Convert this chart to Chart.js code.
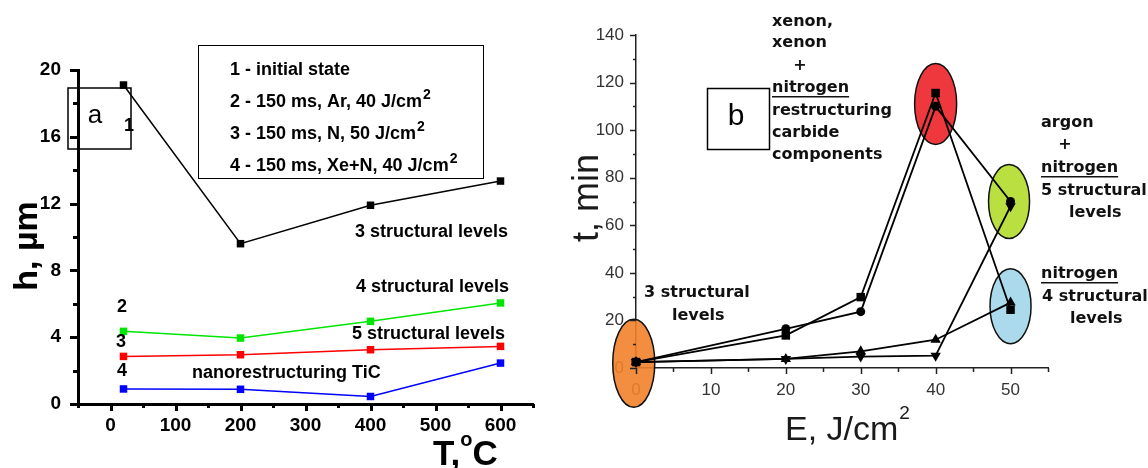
<!DOCTYPE html>
<html>
<head>
<meta charset="utf-8">
<script src="https://cdn.jsdelivr.net/npm/chart.js@4.4.1/dist/chart.umd.min.js"></script>
<style>
  html, body { margin: 0; padding: 0; background: #fff; }
  #wrap { position: relative; width: 1148px; height: 468px; overflow: hidden; }
  #chartA { position: absolute; left: 0; top: 0; }
  #chartB { position: absolute; left: 570px; top: 0; }
</style>
</head>
<body>
<div id="wrap">
  <canvas id="chartA" width="570" height="468"></canvas>
  <canvas id="chartB" width="578" height="468"></canvas>
</div>
<script>
// ---- panel a : thickness h vs temperature T ----
const tempC    = [20, 200, 400, 600];
const hInitial = [19.1, 9.6, 11.9, 13.35];
const hAr40    = [4.35, 3.95, 4.95, 6.05];
const hN50     = [2.85, 2.95, 3.25, 3.45];
const hXeN40   = [0.9, 0.88, 0.45, 2.45];
const legendA  = ['1 - initial state', '2 - 150 ms, Ar, 40 J/cm', '3 - 150 ms, N, 50 J/cm', '4 - 150 ms, Xe+N, 40 J/cm'];

// ---- panel b : time t vs energy density E ----
const energy  = [0, 20, 30, 40, 50];
const tSquare = [2.5, 13.7, 29.8, 115.6, 24.5];
const tCircle = [2.5, 16.5, 23.7, 110, 70];
const tUp     = [2.5, 3.8, 7, 11.9, 27.5];
const tDown   = [2.5, 3.8, 4.8, 5.2, 68];
// coloured zones (centre in data units)
const zoneE = [-0.3, 40, 49.8, 50];
const zoneT = [2, 111, 70, 26];

const SANS = '"Liberation Sans", Arial, sans-serif';
const VERD = '"DejaVu Sans", Verdana, sans-serif';

function pts(xs, ys) { return xs.map((x, i) => ({ x: x, y: ys[i] })); }

function textSup(ctx, str, sup, x, y, font, supFont, rise) {
  ctx.font = font;
  ctx.fillText(str, x, y);
  const w = ctx.measureText(str).width;
  ctx.font = supFont;
  ctx.fillText(sup, x + w + 1, y - rise);
}

function drawTicks(ctx, scale, isX, majorEvery, majorLen, minorLen, lw, color) {
  ctx.save();
  ctx.strokeStyle = color;
  ctx.lineWidth = lw;
  scale.ticks.forEach(t => {
    const v = t.value;
    const major = Math.abs(v % majorEvery) < 1e-6;
    const len = major ? majorLen : minorLen;
    const p = Math.round(scale.getPixelForValue(v)) + 0.5;
    ctx.beginPath();
    if (isX) { ctx.moveTo(p, scale.top); ctx.lineTo(p, scale.top + len); }
    else { ctx.moveTo(scale.right - len, p); ctx.lineTo(scale.right, p); }
    ctx.stroke();
  });
  ctx.restore();
}

// ---------- panel a ----------
const annA = {
  id: 'annA',
  afterDraw(chart) {
    const ctx = chart.ctx;
    const { x, y } = chart.scales;
    drawTicks(ctx, x, true, 100, 7, 4, 3, '#000');
    drawTicks(ctx, y, false, 4, 8, 5, 3, '#000');

    ctx.save();
    ctx.fillStyle = '#000';
    ctx.textBaseline = 'middle';
    ctx.textAlign = 'left';

    // legend box
    ctx.strokeStyle = '#000';
    ctx.lineWidth = 1;
    ctx.strokeRect(198.5, 45.5, 285, 133);
    const ly = [70, 102, 134, 166];
    legendA.forEach((s, i) => {
      if (i === 0) { ctx.font = 'bold 18px ' + SANS; ctx.fillText(s, 230, ly[i]); }
      else textSup(ctx, s, '2', 230, ly[i], 'bold 18px ' + SANS, 'bold 14px ' + SANS, 7);
    });

    // annotations
    ctx.font = 'bold 18px ' + SANS;
    ctx.fillText('3 structural levels', 355, 232);
    ctx.fillText('4 structural levels', 356, 287);
    ctx.fillText('5 structural levels', 352, 334);
    ctx.fillText('nanorestructuring TiC', 192, 373);
    ctx.textAlign = 'center';
    ctx.fillText('2', 122, 307);
    ctx.fillText('3', 121, 342);
    ctx.fillText('4', 122, 371);
    ctx.fillText('1', 129, 126);

    // panel label box
    ctx.lineWidth = 1.5;
    ctx.strokeRect(68, 88, 63, 61);
    ctx.font = '26px ' + SANS;
    ctx.fillText('a', 95, 116);

    // axis titles
    ctx.save();
    ctx.translate(28, 246);
    ctx.rotate(-Math.PI / 2);
    ctx.font = 'bold 34px ' + SANS;
    ctx.fillText('h, \u00b5m', 0, 0);
    ctx.restore();

    ctx.textAlign = 'left';
    ctx.textBaseline = 'alphabetic';
    ctx.font = 'bold 35px ' + SANS;
    ctx.fillText('T,', 433, 465);
    let tx = 433 + ctx.measureText('T,').width;
    ctx.font = 'bold 20px ' + SANS;
    ctx.fillText('o', tx, 446);
    tx += ctx.measureText('o').width;
    ctx.font = 'bold 35px ' + SANS;
    ctx.fillText('C', tx, 465);
    ctx.restore();
  }
};

function seriesA(data, color) {
  return {
    data: pts(tempC, data),
    borderColor: color, backgroundColor: color,
    borderWidth: 1.5, pointStyle: 'rect', pointRadius: 5.3,
    pointBorderWidth: 0, clip: false
  };
}

new Chart(document.getElementById('chartA'), {
  type: 'line',
  data: {
    datasets: [
      seriesA(hInitial, '#000000'),
      seriesA(hAr40, '#00e600'),
      seriesA(hN50, '#ff0000'),
      seriesA(hXeN40, '#0000ff')
    ]
  },
  options: {
    responsive: false, animation: false,
    layout: { padding: { left: 0, top: 70, right: 37, bottom: 0 } },
    plugins: { legend: { display: false }, tooltip: { enabled: false } },
    scales: {
      x: {
        type: 'linear', min: -50, max: 650,
        grid: { display: false },
        border: { display: true, color: '#000', width: 3 },
        afterFit: s => { s.height = 64; },
        ticks: {
          stepSize: 50, autoSkip: false, maxRotation: 0, padding: 2,
          color: '#000', font: { family: SANS, size: 19, weight: 'bold' },
          callback: v => (v >= 0 && v % 100 === 0) ? v : ''
        }
      },
      y: {
        type: 'linear', min: 0, max: 20,
        grid: { display: false },
        border: { display: true, color: '#000', width: 3 },
        afterFit: s => { s.width = 78; },
        ticks: {
          stepSize: 2, autoSkip: false, padding: 9,
          color: '#000', font: { family: SANS, size: 19, weight: 'bold' },
          callback: v => (v % 4 === 0) ? v : ''
        }
      }
    }
  },
  plugins: [annA]
});

// ---------- panel b ----------
const zoneStyle = [
  { fill: '#f2812b', rx: 21, ry: 44 },
  { fill: '#ec2229', rx: 21, ry: 40.5 },
  { fill: '#b1db2c', rx: 20.5, ry: 37 },
  { fill: '#a2d6ea', rx: 20.5, ry: 37.5 }
];

const annB = {
  id: 'annB',
  beforeDatasetsDraw(chart) {
    const ctx = chart.ctx;
    const { x, y } = chart.scales;
    ctx.save();
    zoneE.forEach((e, i) => {
      const st = zoneStyle[i];
      const cx = x.getPixelForValue(e), cy = y.getPixelForValue(zoneT[i]);
      ctx.beginPath();
      ctx.ellipse(cx, cy, st.rx, st.ry, 0, 0, Math.PI * 2);
      ctx.globalAlpha = 0.9;
      ctx.fillStyle = st.fill;
      ctx.fill();
      ctx.globalAlpha = 1;
      ctx.strokeStyle = '#111';
      ctx.lineWidth = 1.5;
      ctx.stroke();
    });
    ctx.restore();
  },
  afterDraw(chart) {
    const ctx = chart.ctx;
    const { x, y } = chart.scales;
    drawTicks(ctx, x, true, 10, 6, 4, 1.5, '#222');
    drawTicks(ctx, y, false, 20, 6, 3, 1.5, '#222');

    ctx.save();
    ctx.fillStyle = '#111';
    ctx.textBaseline = 'middle';
    ctx.textAlign = 'left';
    ctx.font = 'bold 16px ' + VERD;

    const under = (s, tx, ty) => {
      ctx.fillText(s, tx, ty);
      const w = ctx.measureText(s).width;
      ctx.fillRect(tx, ty + 8, w, 1.5);
    };

    ctx.fillText('xenon,', 202, 22);
    ctx.fillText('xenon', 202, 43);
    ctx.textAlign = 'center'; ctx.fillText('+', 230, 66); ctx.textAlign = 'left';
    under('nitrogen', 202, 88);
    ctx.fillText('restructuring', 202, 111);
    ctx.fillText('carbide', 202, 133);
    ctx.fillText('components', 202, 155);

    ctx.fillText('3 structural', 74, 293);
    ctx.fillText('levels', 102, 316);

    ctx.fillText('argon', 471, 123);
    ctx.textAlign = 'center'; ctx.fillText('+', 495, 145); ctx.textAlign = 'left';
    under('nitrogen', 471, 168);
    ctx.fillText('5 structural', 471, 191);
    ctx.fillText('levels', 499, 213);

    under('nitrogen', 471, 274);
    ctx.fillText('4 structural', 472, 297);
    ctx.fillText('levels', 500, 319);

    // panel label box
    ctx.strokeStyle = '#000';
    ctx.lineWidth = 1.5;
    ctx.strokeRect(137.5, 88.5, 62, 61);
    ctx.textAlign = 'center';
    ctx.fillStyle = '#000';
    ctx.font = '30px ' + SANS;
    ctx.fillText('b', 166, 117);

    // axis titles
    ctx.fillStyle = '#1a1a1a';
    ctx.save();
    ctx.translate(18, 198);
    ctx.rotate(-Math.PI / 2);
    ctx.font = '36px ' + SANS;
    ctx.fillText('t, min', 0, 0);
    ctx.restore();

    ctx.textAlign = 'left';
    ctx.textBaseline = 'alphabetic';
    textSup(ctx, 'E, J/cm', '2', 215, 440, '34px ' + SANS, '19px ' + SANS, 21);
    ctx.restore();
  }
};

function seriesB(data, style, radius, rotation) {
  return {
    data: pts(energy, data),
    borderColor: '#000', backgroundColor: '#000',
    borderWidth: 1.8, pointStyle: style, pointRadius: radius,
    pointRotation: rotation || 0, pointBorderWidth: 0, clip: false
  };
}

new Chart(document.getElementById('chartB'), {
  type: 'line',
  data: {
    datasets: [
      seriesB(tDown, 'triangle', 6, 180),
      seriesB(tUp, 'triangle', 6, 0),
      seriesB(tCircle, 'circle', 4.5),
      seriesB(tSquare, 'rect', 6)
    ]
  },
  options: {
    responsive: false, animation: false,
    layout: { padding: { left: 0, top: 35, right: 100, bottom: 0 } },
    plugins: { legend: { display: false }, tooltip: { enabled: false } },
    scales: {
      x: {
        type: 'linear', min: 0, max: 55,
        grid: { display: false },
        border: { display: true, color: '#222', width: 1.5 },
        afterFit: s => { s.height = 100; },
        ticks: {
          stepSize: 5, autoSkip: false, maxRotation: 0, padding: 4,
          color: '#333', font: { family: SANS, size: 17 },
          callback: v => (v % 10 === 0 && v <= 50) ? v : ''
        }
      },
      y: {
        type: 'linear', min: 0, max: 140,
        grid: { display: false },
        border: { display: true, color: '#222', width: 1.5 },
        afterFit: s => { s.width = 66; },
        ticks: {
          stepSize: 10, autoSkip: false, padding: 4,
          color: '#333', font: { family: SANS, size: 17 },
          callback: v => (v % 20 === 0) ? v : ''
        }
      }
    }
  },
  plugins: [annB]
});
</script>
</body>
</html>
